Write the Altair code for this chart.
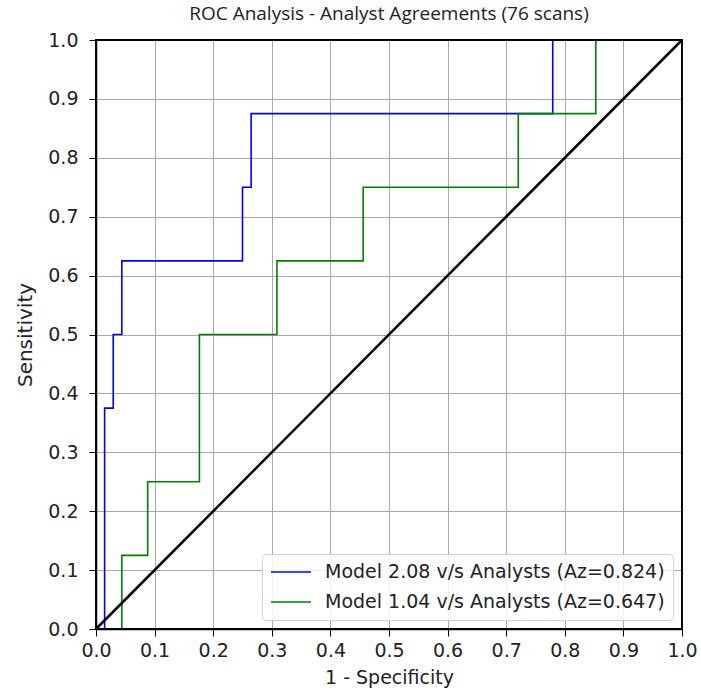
import altair as alt
import pandas as pd

series_names = ["Model 2.08 v/s Analysts (Az=0.824)", "Model 1.04 v/s Analysts (Az=0.647)"]
series_colors = ["#0000ff", "#008000"]

# ROC vertices (step-after): 68 negatives, 8 positives
fpr_208 = [0.0, 0.0147, 0.0294, 0.0441, 0.25, 0.2647, 0.7794, 1.0]
tpr_208 = [0.0, 0.375, 0.5, 0.625, 0.75, 0.875, 1.0, 1.0]
fpr_104 = [0.0, 0.0441, 0.0882, 0.1765, 0.3088, 0.4559, 0.7206, 0.8529, 1.0]
tpr_104 = [0.0, 0.125, 0.25, 0.5, 0.625, 0.75, 0.875, 1.0, 1.0]

chance_x = [0.0, 1.0]
chance_y = [0.0, 1.0]

tick_values = [0.0, 0.1, 0.2, 0.3, 0.4, 0.5, 0.6, 0.7, 0.8, 0.9, 1.0]

rows = []
for name, xs, ys in [(series_names[0], fpr_208, tpr_208), (series_names[1], fpr_104, tpr_104)]:
    for i, (a, b) in enumerate(zip(xs, ys)):
        rows.append({"series": name, "fpr": a, "tpr": b, "idx": i})
roc = pd.DataFrame(rows)
chance = pd.DataFrame({"fpr": chance_x, "tpr": chance_y, "idx": [0, 1]})

FONT = "DejaVu Sans"
W, H = 586, 589

xscale = alt.Scale(domain=[0, 1], nice=False)
yscale = alt.Scale(domain=[0, 1], nice=False)

xaxis = alt.Axis(values=tick_values, format=".1f", title="1 - Specificity", labelFlush=False,
                 titleFontSize=19, labelFontSize=19, titlePadding=8, labelPadding=5)
yaxis = alt.Axis(values=tick_values, format=".1f", title="Sensitivity", labelFlush=False,
                 titleFontSize=20, labelFontSize=19, titlePadding=12, labelPadding=11)

lines = alt.Chart(roc).mark_line(interpolate="step-after", strokeWidth=1.6).encode(
    x=alt.X("fpr:Q", scale=xscale, axis=xaxis),
    y=alt.Y("tpr:Q", scale=yscale, axis=yaxis),
    order="idx:Q",
    color=alt.Color("series:N",
                    scale=alt.Scale(domain=series_names, range=series_colors),
                    sort=series_names,
                    legend=alt.Legend(title=None, orient="none", legendX=166, legendY=514,
                                      symbolType="stroke", symbolSize=1600, symbolStrokeWidth=1.6,
                                      clipHeight=20, labelFontSize=19, labelLimit=600,
                                      rowPadding=10, padding=8, labelOffset=13,
                                      strokeColor="#d0d0d0", fillColor="rgba(255,255,255,0.85)",
                                      cornerRadius=4)),
)

diag = alt.Chart(chance).mark_line(color="black", strokeWidth=2.5).encode(
    x=alt.X("fpr:Q", scale=xscale),
    y=alt.Y("tpr:Q", scale=yscale),
    order="idx:Q",
)

frame = alt.Chart(pd.DataFrame({"k": [0]})).mark_rect(
    filled=False, stroke="black", strokeWidth=1.8
).encode(x=alt.value(0), x2=alt.value(W), y=alt.value(0), y2=alt.value(H))

chart = alt.layer(lines, diag, frame).properties(
    width=W, height=H,
    title=alt.Title("ROC Analysis - Analyst Agreements (76 scans)", fontSize=19,
                    font="Open Sans", fontWeight="normal", color="#222222", offset=7),
    padding={"left": 96, "top": 40, "right": 19, "bottom": 71},
    autosize=alt.AutoSizeParams(type="none"),
).configure(font=FONT).configure_view(
    stroke="black", strokeWidth=1.5
).configure_axis(
    grid=True, gridColor="#a8a8a8", gridWidth=1, gridOpacity=1,
    domainColor="black", domainWidth=1.5, tickColor="black", tickSize=7,
    labelColor="#222222", titleColor="#222222", labelFont=FONT, titleFont=FONT,
    titleFontWeight="normal",
).configure_legend(labelFont=FONT, labelColor="#222222")

chart.save("out.html", embed_options={"renderer": "svg", "actions": False})
